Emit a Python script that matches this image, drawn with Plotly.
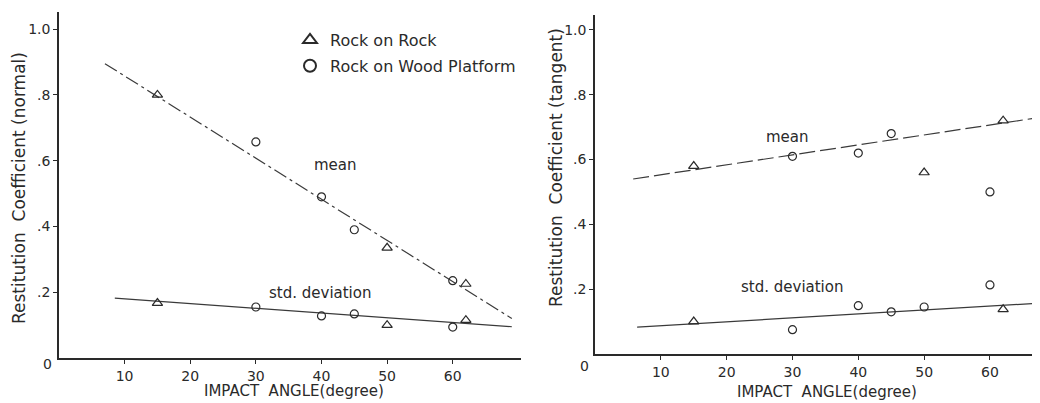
import plotly.graph_objects as go

# ---------------- data ----------------
# Left panel: normal restitution coefficient
ln_mean_tri_x = [15, 50, 62]
ln_mean_tri_y = [0.80, 0.335, 0.225]
ln_mean_cir_x = [30, 40, 45, 60]
ln_mean_cir_y = [0.657, 0.49, 0.39, 0.235]
ln_mean_fit_x = [7, 69]
ln_mean_fit_y = [0.895, 0.12]

ln_std_tri_x = [15, 50, 62]
ln_std_tri_y = [0.167, 0.10, 0.115]
ln_std_cir_x = [30, 40, 45, 60]
ln_std_cir_y = [0.155, 0.128, 0.134, 0.094]
ln_std_fit_x = [8.5, 69]
ln_std_fit_y = [0.182, 0.095]

# Right panel: tangential restitution coefficient
rt_mean_tri_x = [15, 50, 62]
rt_mean_tri_y = [0.58, 0.56, 0.72]
rt_mean_cir_x = [30, 40, 45, 60]
rt_mean_cir_y = [0.61, 0.62, 0.68, 0.50]
rt_mean_fit_x = [5.8, 67.6]
rt_mean_fit_y = [0.54, 0.73]

rt_std_tri_x = [15, 62]
rt_std_tri_y = [0.10, 0.138]
rt_std_cir_x = [30, 40, 45, 50, 60]
rt_std_cir_y = [0.075, 0.149, 0.13, 0.145, 0.213]
rt_std_fit_x = [6.4, 67.6]
rt_std_fit_y = [0.083, 0.157]

x_ticks = [10, 20, 30, 40, 50, 60]
x_tick_labels = ["10", "20", "30", "40", "50", "60"]
y_ticks = [0.2, 0.4, 0.6, 0.8, 1.0]
y_tick_labels = [".2", ".4", ".6", ".8", "1.0"]

# ---------------- style ----------------
OFF = 8                      # page body margin of the browser
W, H = 1040 - OFF, 403 - OFF
FONT = "DejaVu Sans"
INK = "#2a2a2a"
LINE = "#3a3a3a"


def px(x):
    """screen pixel x -> paper fraction"""
    return (x - OFF) / W


def py(y):
    """screen pixel y -> paper fraction"""
    return (H - (y - OFF)) / H


fig = go.Figure()

tri = dict(symbol="triangle-up-open", size=9, color=INK, line=dict(width=1.2, color=INK))
cir = dict(symbol="circle-open", size=8, color=INK, line=dict(width=1.2, color=INK))


def add_panel(xa, ya, fits, tris, cirs):
    for (fx, fy, dash) in fits:
        fig.add_trace(go.Scatter(x=fx, y=fy, mode="lines", xaxis=xa, yaxis=ya,
                                 line=dict(color=LINE, width=1.2, dash=dash),
                                 showlegend=False, hoverinfo="skip"))
    for (tx, ty) in tris:
        fig.add_trace(go.Scatter(x=tx, y=ty, mode="markers", xaxis=xa, yaxis=ya,
                                 marker=tri, showlegend=False))
    for (cx, cy) in cirs:
        fig.add_trace(go.Scatter(x=cx, y=cy, mode="markers", xaxis=xa, yaxis=ya,
                                 marker=cir, showlegend=False))


add_panel("x", "y",
          [(ln_mean_fit_x, ln_mean_fit_y, "14px,4px,3px,4px"),
           (ln_std_fit_x, ln_std_fit_y, "solid")],
          [(ln_mean_tri_x, ln_mean_tri_y), (ln_std_tri_x, ln_std_tri_y)],
          [(ln_mean_cir_x, ln_mean_cir_y), (ln_std_cir_x, ln_std_cir_y)])

add_panel("x2", "y2",
          [(rt_mean_fit_x, rt_mean_fit_y, "16px,5px"),
           (rt_std_fit_x, rt_std_fit_y, "solid")],
          [(rt_mean_tri_x, rt_mean_tri_y), (rt_std_tri_x, rt_std_tri_y)],
          [(rt_mean_cir_x, rt_mean_cir_y), (rt_std_cir_x, rt_std_cir_y)])

# legend entries
fig.add_trace(go.Scatter(x=[None], y=[None], mode="markers", marker=dict(tri, size=7),
                         name="Rock on Rock", legendgroup="a", showlegend=True))
fig.add_trace(go.Scatter(x=[None], y=[None], mode="markers", marker=dict(cir, size=6),
                         name="Rock on Wood Platform", legendgroup="b", showlegend=True))

axis_common = dict(showline=True, linecolor=INK, linewidth=1.6, showgrid=False,
                   zeroline=False, ticks="outside", ticklen=4, tickwidth=1.2,
                   tickcolor=INK, tickfont=dict(family=FONT, size=14, color=INK))

fig.update_layout(
    width=W, height=H,
    margin=dict(l=0, r=0, t=0, b=0),
    paper_bgcolor="white", plot_bgcolor="white",
    font=dict(family=FONT, color=INK),
    showlegend=True,
    legend=dict(x=px(290), y=py(23), xanchor="left", yanchor="top",
                font=dict(family=FONT, size=16, color=INK),
                bgcolor="rgba(0,0,0,0)", itemwidth=30, tracegroupgap=2,
                itemsizing="constant"),
    xaxis=dict(axis_common, domain=[px(59), px(521)], range=[0, 70.4],
               tickvals=x_ticks, ticktext=x_tick_labels, anchor="y"),
    yaxis=dict(axis_common, domain=[py(358), py(12)], range=[0, 1.052],
               tickvals=y_ticks, ticktext=y_tick_labels, anchor="x"),
    xaxis2=dict(axis_common, domain=[px(595), 1.0], range=[0, 67.6],
                tickvals=x_ticks, ticktext=x_tick_labels, anchor="y2"),
    yaxis2=dict(axis_common, domain=[py(354), py(15)], range=[0, 1.046],
                tickvals=y_ticks, ticktext=y_tick_labels, anchor="x2"),
)

ann_font = dict(family=FONT, size=15, color=INK)
annotations = [
    dict(text="mean", x=42.1, y=0.587, xref="x", yref="y"),
    dict(text="std. deviation", x=39.7, y=0.198, xref="x", yref="y"),
    dict(text="mean", x=29.3, y=0.67, xref="x2", yref="y2"),
    dict(text="std. deviation", x=29.9, y=0.207, xref="x2", yref="y2"),
    dict(text="0", x=px(47), y=py(364), xref="paper", yref="paper", font=dict(ann_font, size=14)),
    dict(text="0", x=px(584), y=py(366), xref="paper", yref="paper", font=dict(ann_font, size=14)),
    dict(text="IMPACT  ANGLE(degree)", x=px(294), y=py(391), xref="paper", yref="paper"),
    dict(text="IMPACT  ANGLE(degree)", x=px(827), y=py(392), xref="paper", yref="paper"),
    dict(text="Restitution  Coefficient (normal)", x=px(19), y=py(188), xref="paper",
         yref="paper", textangle=-90, font=dict(ann_font, size=17)),
    dict(text="Restitution  Coefficient (tangent)", x=px(556), y=py(168), xref="paper",
         yref="paper", textangle=-90, font=dict(ann_font, size=17)),
]
for a in annotations:
    a.setdefault("font", ann_font)
    a.update(showarrow=False, xanchor="center", yanchor="middle")
fig.update_layout(annotations=annotations)

fig.write_html("out.html")
